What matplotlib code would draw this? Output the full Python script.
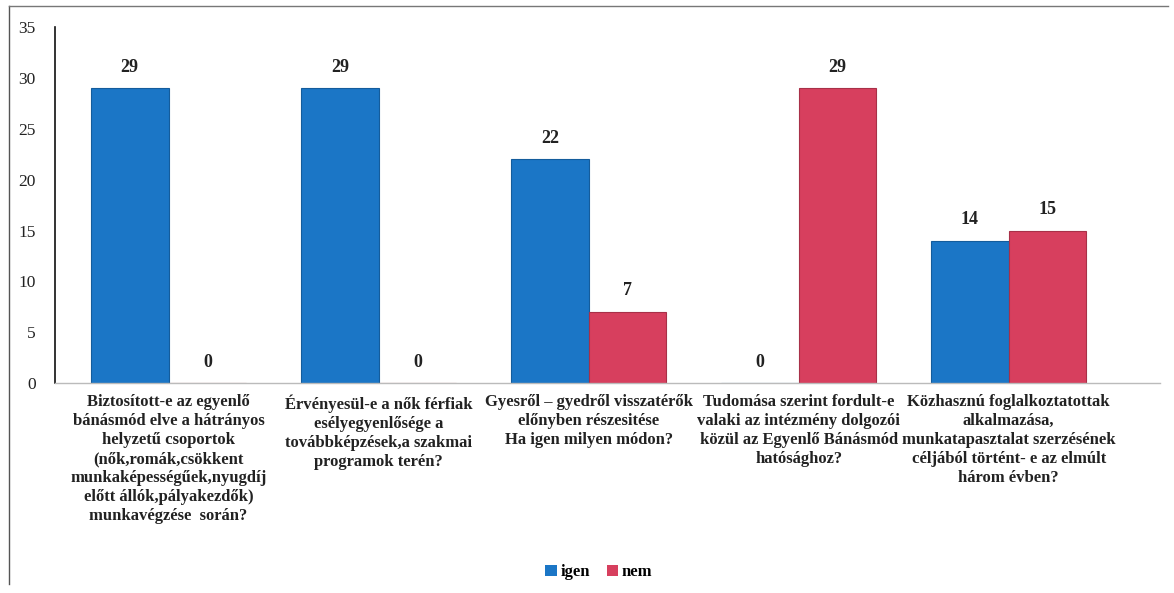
import matplotlib
matplotlib.use('Agg')
import matplotlib.pyplot as plt
from matplotlib.lines import Line2D
from matplotlib.patches import Patch
import numpy as np

# --- Data ---
categories = [
    'Biztosított-e az egyenlő\nbánásmód elve a hátrányos\nhelyzetű csoportok\n(nők,romák,csökkent\nmunkaképességűek,nyugdíj\nelőtt állók,pályakezdők)\nmunkavégzése  során?',
    'Érvényesül-e a nők férfiak\nesélyegyenlősége a\ntovábbképzések,a szakmai\nprogramok terén?',
    'Gyesről – gyedről visszatérők\nelőnyben részesitése\nHa igen milyen módon?',
    'Tudomása szerint fordult-e\nvalaki az intézmény dolgozói\nközül az Egyenlő Bánásmód\nhatósághoz?',
    'Közhasznú foglalkoztatottak\nalkalmazása,\nmunkatapasztalat szerzésének\ncéljából történt- e az elmúlt\nhárom évben?',
]
igen = [29, 29, 22, 0, 14]
nem = [0, 0, 7, 29, 15]
series_names = ['igen', 'nem']
yticks = [0, 5, 10, 15, 20, 25, 30, 35]

BLUE = '#1b76c6'
RED = '#d73f5e'
BLUE_EDGE = '#145c9c'
RED_EDGE = '#a83048'
INK = '#222222'

plt.rcParams['font.family'] = ['Liberation Serif', 'DejaVu Serif']

fig = plt.figure(figsize=(11.74, 5.93), dpi=100)
ax = fig.add_axes([0.047, 0.354, 0.941, 0.600])

x = np.arange(len(categories))
w = 0.37
b1 = ax.bar(x - w / 2, igen, w, color=BLUE, edgecolor=BLUE_EDGE, linewidth=0.8)
b2 = ax.bar(x + w / 2, nem, w, color=RED, edgecolor=RED_EDGE, linewidth=0.8)

for bars in (b1, b2):
    for rect in bars:
        h = rect.get_height()
        ax.annotate(f'{h:g}', (rect.get_x() + rect.get_width() / 2, h),
                    xytext=(0, 9), textcoords='offset points', ha='center',
                    va='bottom', fontsize=13, fontweight='bold', color=INK)

ax.set_ylim(0, 35)
ax.set_xlim(-0.54, 4.72)
ax.set_yticks(yticks)
ax.tick_params(axis='y', length=0, pad=14, labelsize=12.5, labelcolor=INK)
ax.set_xticks(x)
ax.set_xticklabels(categories, fontsize=12, fontweight='bold', color=INK,
                   linespacing=1.25)
ax.tick_params(axis='x', length=0, pad=8)

for s in ('top', 'right'):
    ax.spines[s].set_visible(False)
ax.spines['left'].set_color('#111111')
ax.spines['left'].set_linewidth(1.2)
ax.spines['bottom'].set_color('#bbbbbb')
ax.spines['bottom'].set_linewidth(1.0)

handles = [Patch(facecolor=BLUE), Patch(facecolor=RED)]
fig.legend(handles, series_names, loc='center', bbox_to_anchor=(0.51, 0.035),
           ncol=2, frameon=False, handlelength=0.7,
           handleheight=0.7, handletextpad=0.2, columnspacing=1.0,
           prop={'weight': 'bold', 'size': 12})

# outer chart frame (left and top edges visible in the scan)
fig.add_artist(Line2D([0.008, 0.008], [0.99, 0.015], transform=fig.transFigure,
                      color='#555555', linewidth=1.0))
fig.add_artist(Line2D([0.008, 0.995], [0.99, 0.99], transform=fig.transFigure,
                      color='#777777', linewidth=1.0))

fig.savefig('out.png', dpi=100, facecolor='white')
